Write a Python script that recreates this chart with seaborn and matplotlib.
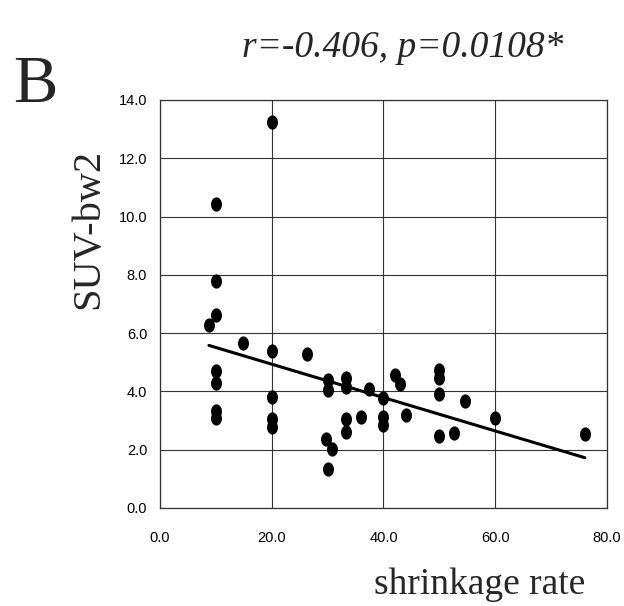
import numpy as np
import pandas as pd
import seaborn as sns
import matplotlib.pyplot as plt
from matplotlib.path import Path
from matplotlib import font_manager

# values
shrinkage = [20.0, 10.0, 10.0, 10.0, 8.8, 14.8, 20.0, 26.3, 10.0, 10.0,
             10.0, 10.0, 20.0, 20.0, 20.0, 30.0, 30.0, 33.3, 33.3, 33.3,
             33.3, 29.8, 30.8, 30.0, 37.5, 36.0, 40.0, 40.0, 40.0, 42.1,
             43.0, 44.0, 50.0, 50.0, 50.0, 50.0, 52.6, 54.5, 60.0, 76.0]
suv_bw2 = [13.24, 10.44, 7.79, 6.62, 6.28, 5.67, 5.39, 5.28, 4.70, 4.27,
           3.34, 3.09, 3.80, 3.06, 2.77, 4.38, 4.03, 4.44, 4.15, 3.06,
           2.60, 2.37, 2.02, 1.33, 4.09, 3.11, 3.77, 3.11, 2.83, 4.55,
           4.24, 3.17, 4.72, 4.44, 3.92, 2.45, 2.56, 3.67, 3.09, 2.54]

x_ticks = [0, 20, 40, 60, 80]
x_labels = ['0.0', '20.0', '40.0', '60.0', '80.0']
y_ticks = [0, 2, 4, 6, 8, 10, 12, 14]
y_labels = ['0.0', '2.0', '4.0', '6.0', '8.0', '10.0', '12.0', '14.0']

df = pd.DataFrame({'shrinkage': shrinkage, 'suv': suv_bw2})

sns.set_style('white')
installed = {f.name for f in font_manager.fontManager.ttflist}
if 'Liberation Sans Narrow' in installed:
    tick_family, tick_size = 'Liberation Sans Narrow', 12
else:
    tick_family, tick_size = 'Liberation Sans', 10.5
plt.rcParams['font.family'] = [tick_family, 'DejaVu Sans']

fig = plt.figure(figsize=(6.24, 6.06), dpi=100)
ax = fig.add_axes([0.256, 0.162, 0.717, 0.673])

# slightly tall ellipse marker like the scanned dots
t = np.linspace(0, 2 * np.pi, 40)
ellipse = Path(np.column_stack([np.cos(t), 1.3 * np.sin(t)]), closed=True)

sns.regplot(data=df, x='shrinkage', y='suv', ax=ax, ci=None, truncate=True,
            marker=ellipse,
            scatter_kws={'s': 105, 'color': 'black', 'alpha': 1, 'clip_on': False,
                         'zorder': 3, 'linewidths': 0},
            line_kws={'color': 'black', 'lw': 2.2})

ax.set_xlim(0, 80)
ax.set_ylim(0, 14)
ax.set_xticks(x_ticks)
ax.set_xticklabels(x_labels)
ax.set_yticks(y_ticks)
ax.set_yticklabels(y_labels)
ax.tick_params(axis='both', labelsize=tick_size, length=0, colors='black')
ax.tick_params(axis='x', pad=17)
ax.tick_params(axis='y', pad=9)
ax.grid(True, color='#333333', lw=0.8)
for s in ax.spines.values():
    s.set_color('#333333')
    s.set_linewidth(0.9)

ax.set_xlabel('')
ax.set_ylabel('')
serif = ['Liberation Serif', 'DejaVu Serif']
fig.text(0.769, 0.019, 'shrinkage rate', family=serif, fontsize=27,
         ha='center', va='baseline')
fig.text(0.142, 0.622, 'SUV-bw2', family=serif, fontsize=29,
         rotation=90, ha='center', va='center')
fig.text(0.645, 0.906, 'r=-0.406, p=0.0108*', family=serif, style='italic',
         fontsize=27, ha='center', va='baseline')
fig.text(0.021, 0.832, 'B', family=serif, fontsize=48, ha='left', va='baseline')

fig.savefig('out.png', dpi=100)
